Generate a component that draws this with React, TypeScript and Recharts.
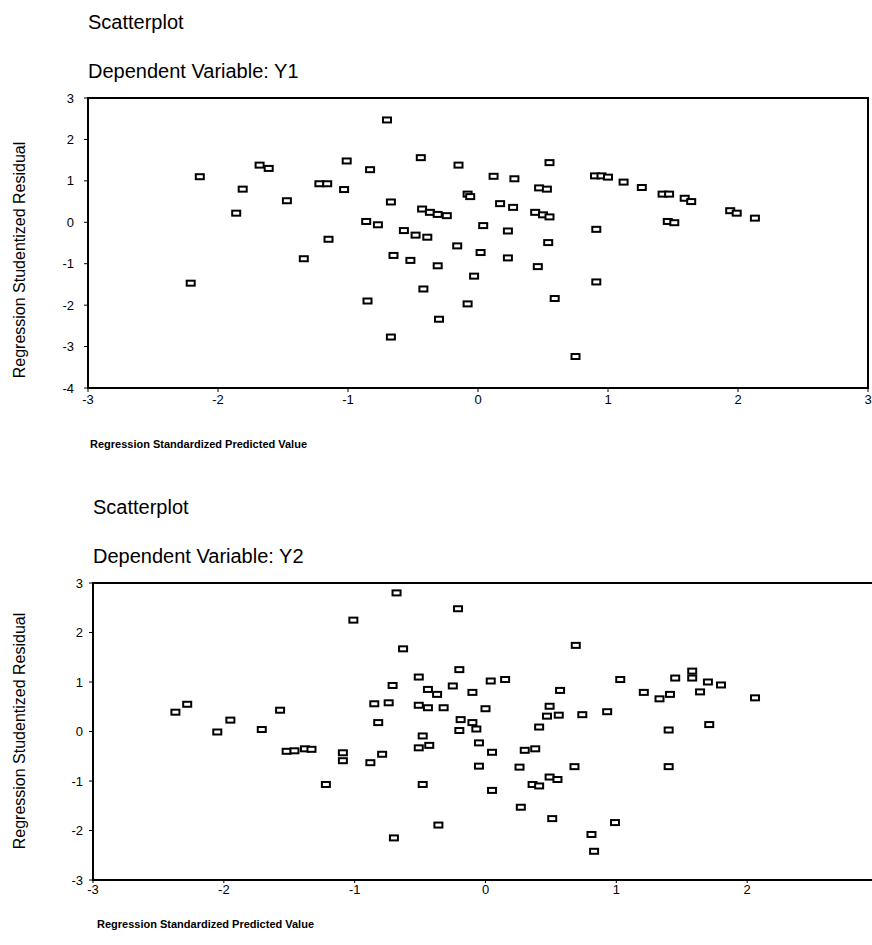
import React from 'react';
import { ScatterChart, Scatter, XAxis, YAxis, ReferenceArea } from 'recharts';

const xTicks = [-3, -2, -1, 0, 1, 2, 3];
const y1Ticks = [-4, -3, -2, -1, 0, 1, 2, 3];
const y2Ticks = [-3, -2, -1, 0, 1, 2, 3];

const titleText = 'Scatterplot';
const subtitle1 = 'Dependent Variable: Y1';
const subtitle2 = 'Dependent Variable: Y2';
const xTitle = 'Regression Standardized Predicted Value';
const yTitle = 'Regression Studentized Residual';

// Y1: [predicted, residual]
const y1Points: [number, number][] = [
  [-0.70, 2.47], [-2.14, 1.10], [-1.68, 1.38], [-1.61, 1.30], [-1.01, 1.48], [-0.83, 1.27],
  [-0.44, 1.56], [-0.15, 1.38], [-1.81, 0.80], [-1.22, 0.93], [-1.16, 0.93], [-1.03, 0.79],
  [-1.47, 0.52], [-1.86, 0.22], [-0.67, 0.49], [-0.08, 0.68], [-0.06, 0.62], [-0.43, 0.32],
  [-0.37, 0.24], [-0.31, 0.19], [-0.24, 0.16], [-0.86, 0.02], [-0.77, -0.06], [-0.57, -0.20],
  [-0.48, -0.31], [-0.39, -0.36], [-1.15, -0.41], [-0.16, -0.57], [0.04, -0.08], [-0.65, -0.80],
  [-0.52, -0.92], [-1.34, -0.88], [-0.31, -1.05], [0.02, -0.73], [-0.03, -1.30], [-0.42, -1.61],
  [-2.21, -1.47], [-0.85, -1.90], [-0.08, -1.97], [-0.30, -2.34], [-0.67, -2.77],
  [0.55, 1.44], [0.12, 1.11], [0.28, 1.05], [0.47, 0.83], [0.53, 0.80], [0.90, 1.12],
  [0.95, 1.12], [1.00, 1.09], [1.12, 0.97], [1.26, 0.84], [1.42, 0.68], [1.47, 0.68],
  [1.59, 0.58], [1.64, 0.50], [1.94, 0.28], [1.99, 0.22], [2.13, 0.10], [0.17, 0.45],
  [0.27, 0.36], [0.44, 0.24], [0.50, 0.18], [0.55, 0.13], [1.46, 0.02], [1.51, -0.01],
  [0.23, -0.21], [0.91, -0.17], [0.54, -0.49], [0.23, -0.86], [0.46, -1.07], [0.91, -1.44],
  [0.59, -1.84], [0.75, -3.24],
];

// Y2: [predicted, residual]
const y2Points: [number, number][] = [
  [-0.68, 2.80], [-0.21, 2.48], [-1.01, 2.25], [-0.63, 1.67], [-0.20, 1.25], [-0.51, 1.10],
  [-0.71, 0.93], [-0.44, 0.85], [-0.37, 0.75], [-0.25, 0.92], [-0.10, 0.79], [-2.28, 0.55],
  [-2.37, 0.39], [-1.57, 0.43], [-1.95, 0.23], [-2.05, -0.01], [-1.71, 0.04], [-0.85, 0.56],
  [-0.74, 0.58], [-0.51, 0.53], [-0.44, 0.48], [-0.32, 0.48], [-0.82, 0.18], [-0.19, 0.24],
  [-0.10, 0.18], [-0.20, 0.02], [-0.48, -0.09], [-0.07, 0.05], [-1.52, -0.40], [-1.46, -0.39],
  [-1.38, -0.35], [-1.33, -0.36], [-1.09, -0.43], [-1.09, -0.59], [-0.88, -0.63], [-0.79, -0.46],
  [-0.43, -0.28], [-0.51, -0.33], [-0.05, -0.23], [-0.05, -0.70], [-1.22, -1.07], [-0.48, -1.07],
  [-0.36, -1.89], [-0.70, -2.15], [0.69, 1.74], [0.04, 1.02], [0.15, 1.05], [0.57, 0.83],
  [1.03, 1.05], [1.45, 1.08], [1.58, 1.22], [1.58, 1.08], [1.70, 1.00], [1.80, 0.94],
  [1.21, 0.79], [1.33, 0.66], [1.41, 0.75], [1.64, 0.80], [2.06, 0.68], [0.00, 0.46],
  [0.49, 0.51], [0.47, 0.31], [0.56, 0.33], [0.74, 0.34], [0.93, 0.40], [0.41, 0.09],
  [1.40, 0.03], [1.71, 0.14], [0.05, -0.42], [0.30, -0.38], [0.38, -0.35], [0.26, -0.72],
  [0.68, -0.71], [1.40, -0.71], [0.05, -1.19], [0.36, -1.07], [0.41, -1.10], [0.49, -0.92],
  [0.55, -0.97], [0.27, -1.53], [0.51, -1.76], [0.99, -1.84], [0.81, -2.08], [0.83, -2.42],
];

const toData = (pts: [number, number][]) => pts.map(([x, y]) => ({ x, y }));
const data1 = toData(y1Points);
const data2 = toData(y2Points);

const FONT = 'Arial, "Liberation Sans", sans-serif';

const SquareMarker = (props: any) => {
  const { cx, cy } = props;
  if (cx == null || cy == null) return null;
  return <rect x={cx - 4} y={cy - 2.5} width={8} height={5} fill="#fff" stroke="#000" strokeWidth={2} />;
};

const tickStyle = { fill: '#000', fontSize: 13, fontFamily: FONT };

const Text = ({ left, top, size, children, bold }: any) => (
  <div style={{ position: 'absolute', left, top, fontSize: size, fontFamily: FONT, fontWeight: bold ? 'bold' : 'normal', whiteSpace: 'nowrap', lineHeight: 1, color: '#000' }}>
    {children}
  </div>
);

const VText = ({ cx, cy, size, children }: any) => (
  <div style={{ position: 'absolute', left: cx, top: cy, transform: 'translate(-50%, -50%) rotate(-90deg)', fontSize: size, fontFamily: FONT, whiteSpace: 'nowrap', lineHeight: 1, color: '#000' }}>
    {children}
  </div>
);

export default function App() {
  return (
    <div style={{ position: 'absolute', left: 0, top: 0, width: 872, height: 945, overflow: 'hidden', background: '#fff' }}>
      <Text left={88} top={12} size={20}>{titleText}</Text>
      <Text left={88} top={61} size={20}>{subtitle1}</Text>
      <div style={{ position: 'absolute', left: 0, top: 0 }}>
        <ScatterChart width={872} height={460} margin={{ top: 98, right: 4, bottom: 42, left: 28 }}>
          <XAxis type="number" dataKey="x" domain={[-3, 3]} ticks={xTicks} allowDataOverflow height={30}
            tickSize={4} tickMargin={3} tick={tickStyle} axisLine={{ stroke: '#000', strokeWidth: 2 }} tickLine={{ stroke: '#000' }} />
          <YAxis type="number" dataKey="y" domain={[-4, 3]} ticks={y1Ticks} allowDataOverflow width={60}
            tickSize={4} tickMargin={10} tick={tickStyle} axisLine={{ stroke: '#000', strokeWidth: 2 }} tickLine={{ stroke: '#000' }} />
          <ReferenceArea x1={-3} x2={3} y1={-4} y2={3} fill="none" stroke="#000" strokeWidth={2} ifOverflow="visible" />
          <Scatter data={data1} shape={SquareMarker} isAnimationActive={false} />
        </ScatterChart>
      </div>
      <Text left={90} top={439} size={11} bold>{xTitle}</Text>
      <VText cx={20} cy={260} size={16}>{yTitle}</VText>

      <Text left={93} top={497} size={20}>{titleText}</Text>
      <Text left={93} top={546} size={20}>{subtitle2}</Text>
      <div style={{ position: 'absolute', left: 0, top: 480 }}>
        <ScatterChart width={882} height={465} margin={{ top: 103, right: 4, bottom: 35, left: 33 }}>
          <XAxis type="number" dataKey="x" domain={[-3, 3]} ticks={xTicks} allowDataOverflow height={30}
            tickSize={3} tickMargin={2} tick={tickStyle} axisLine={{ stroke: '#000', strokeWidth: 2 }} tickLine={{ stroke: '#000' }} />
          <YAxis type="number" dataKey="y" domain={[-3, 3]} ticks={y2Ticks} allowDataOverflow width={60}
            tickSize={4} tickMargin={6} tick={tickStyle} axisLine={{ stroke: '#000', strokeWidth: 2 }} tickLine={{ stroke: '#000' }} />
          <ReferenceArea x1={-3} x2={3} y1={-3} y2={3} fill="none" stroke="#000" strokeWidth={2} ifOverflow="visible" />
          <Scatter data={data2} shape={SquareMarker} isAnimationActive={false} />
        </ScatterChart>
      </div>
      <Text left={97} top={919} size={11} bold>{xTitle}</Text>
      <VText cx={20} cy={731} size={16}>{yTitle}</VText>
    </div>
  );
}
